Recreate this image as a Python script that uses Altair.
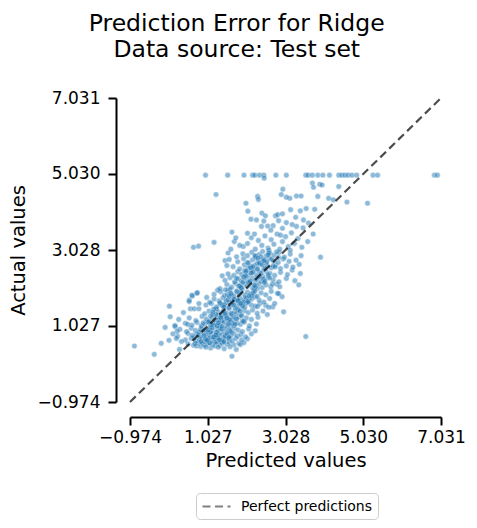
import altair as alt
import pandas as pd

LO = -0.9744
HI = 7.0310
tick_values = [-0.9744, 1.0270, 3.0283, 5.0297, 7.0310]
legend_label = "Perfect predictions"

# ---- predicted / actual values (grouped by actual-value band) ----
pred_a = [0.30,0.52,0.66,0.74,0.79,0.85,0.90,0.95,1.02,1.10,1.15,1.21,1.27,1.34,1.40,1.45,1.52,1.58,1.65,1.70,1.76,1.83,1.87,1.96,0.88,1.05,1.30,0.70,1.60,1.20,0.98,1.38]
act_a  = [0.41,0.56,0.52,0.50,0.58,0.49,0.55,0.52,0.57,0.45,0.54,0.50,0.58,0.52,0.57,0.43,0.55,0.59,0.23,0.53,0.41,0.57,0.54,0.59,0.60,0.59,0.47,0.56,0.48,0.60,0.47,0.60]

pred_b = [0.45,0.60,0.72,0.81,0.88,0.95,1.01,1.08,1.14,1.19,1.25,1.31,1.37,1.44,1.50,1.57,1.66,1.75,1.90,2.05,0.67,0.99,1.22,1.41,
          0.25,0.52,0.63,0.74,0.83,0.90,0.97,1.03,1.09,1.15,1.21,1.27,1.33,1.40,1.47,1.54,1.62,1.70,1.79,1.88,2.00,2.15,0.78,1.06,1.30,1.58,3.55,
          0.31,0.48,0.60,0.71,0.80,0.88,0.94,1.00,1.06,1.12,1.18,1.24,1.30,1.36,1.43,1.50,1.57,1.64,1.72,1.81,1.92,2.08,2.25,0.84,1.10,1.34,1.61,-0.07]
act_b  = [0.66,0.70,0.63,0.68,0.71,0.62,0.67,0.72,0.64,0.69,0.61,0.70,0.66,0.63,0.71,0.68,0.64,0.70,0.66,0.69,0.72,0.65,0.70,0.67,
          0.76,0.83,0.78,0.81,0.74,0.84,0.77,0.80,0.73,0.82,0.78,0.75,0.84,0.79,0.74,0.81,0.77,0.83,0.76,0.80,0.74,0.82,0.79,0.85,0.80,0.75,0.75,
          0.94,0.88,0.97,0.91,0.86,0.99,0.92,0.88,0.96,0.90,0.98,0.87,0.93,0.99,0.89,0.95,0.91,0.86,0.97,0.92,0.88,0.95,0.90,0.93,0.87,0.96,0.99,0.99]

pred_c = [0.19,0.45,0.62,0.75,0.86,0.95,1.02,1.09,1.16,1.22,1.28,1.35,1.41,1.48,1.55,1.62,1.70,1.78,1.87,1.97,2.10,2.28,0.91,1.19,1.45,1.66,
          0.06,0.28,0.55,0.72,0.88,0.99,1.07,1.14,1.21,1.27,1.33,1.40,1.46,1.53,1.60,1.67,1.75,1.83,1.92,2.02,2.15,2.32,1.10,1.37,1.57,
          0.40,0.58,0.68,0.80,0.95,1.06,1.15,1.23,1.30,1.37,1.44,1.51,1.58,1.65,1.72,1.80,1.88,1.97,2.07,2.18,2.30,2.45,2.98,1.26,1.49,1.76,2.56]
act_c  = [1.01,1.10,1.05,1.12,1.03,1.08,1.14,1.01,1.07,1.11,1.04,1.09,1.13,1.02,1.06,1.12,1.04,1.10,1.07,1.13,1.03,1.08,1.11,1.05,1.14,1.09,
          1.27,1.20,1.24,1.17,1.28,1.21,1.16,1.25,1.19,1.29,1.22,1.17,1.26,1.20,1.28,1.18,1.23,1.27,1.16,1.24,1.20,1.26,1.29,1.23,1.18,
          1.38,1.48,1.48,1.48,1.35,1.42,1.33,1.46,1.39,1.31,1.44,1.37,1.49,1.34,1.41,1.47,1.32,1.43,1.38,1.45,1.36,1.42,1.40,1.48,1.30,1.36,1.33]

pred_d = [0.04,0.55,0.98,1.12,1.25,1.35,1.43,1.50,1.57,1.63,1.70,1.77,1.84,1.91,1.98,2.06,2.15,2.25,2.37,2.52,2.70,1.46,1.73,2.01,
          0.62,1.08,1.19,1.32,1.42,1.50,1.58,1.65,1.72,1.79,1.86,1.93,2.00,2.08,2.16,2.25,2.35,2.47,2.62,2.94,1.55,1.82,2.12,
          0.76,1.00,1.19,1.36,1.46,1.55,1.63,1.70,1.77,1.84,1.91,1.98,2.05,2.13,2.21,2.30,2.40,2.52,2.66,2.82,1.60,1.88,2.17,1.28]
act_d  = [1.55,1.71,1.58,1.62,1.53,1.60,1.56,1.64,1.51,1.59,1.63,1.54,1.61,1.57,1.52,1.64,1.58,1.55,1.62,1.57,1.53,1.60,1.50,1.63,
          1.84,1.65,1.74,1.69,1.77,1.71,1.66,1.79,1.73,1.68,1.76,1.70,1.78,1.67,1.74,1.79,1.71,1.66,1.75,1.80,1.72,1.69,1.77,
          1.91,1.78,1.86,1.93,1.83,1.97,1.88,1.82,1.95,1.86,1.99,1.84,1.92,1.87,1.96,1.81,1.90,1.85,1.94,1.89,1.99,1.93,1.83,1.97]

pred_e = [1.34,1.52,1.64,1.74,1.82,1.90,1.97,2.04,2.11,2.18,2.26,2.34,2.43,2.53,2.65,2.80,2.88,3.37,1.86,2.22,
          1.47,1.60,1.72,1.81,1.89,1.96,2.03,2.10,2.17,2.24,2.32,2.40,2.49,2.59,2.71,2.86,3.05,3.27,1.93,2.28,
          1.55,1.70,1.80,1.90,1.98,2.06,2.13,2.20,2.28,2.36,2.44,2.53,2.63,2.75,2.90,3.08,3.20,3.41,2.00,2.40]
act_e  = [2.01,2.12,2.05,2.15,2.08,2.02,2.13,2.07,2.16,2.03,2.10,2.14,2.04,2.11,2.06,2.13,2.06,2.11,2.09,2.01,
          2.23,2.30,2.19,2.27,2.21,2.32,2.25,2.18,2.29,2.22,2.31,2.20,2.26,2.33,2.24,2.19,2.28,2.22,2.18,2.26,
          2.40,2.36,2.46,2.39,2.49,2.35,2.43,2.48,2.37,2.45,2.34,2.47,2.41,2.36,2.44,2.38,2.50,2.41,2.46,2.42]

pred_f = [1.68,1.85,1.97,2.07,2.15,2.23,2.31,2.39,2.47,2.56,2.66,2.77,2.90,3.05,3.22,3.38,2.12,2.50,
          1.47,1.80,1.95,2.08,2.18,2.27,2.35,2.44,2.53,2.62,2.72,2.84,2.97,3.12,3.30,3.93,2.30,2.67,
          1.77,1.93,2.05,2.16,2.26,2.35,2.44,2.53,2.63,2.74,2.86,3.00,3.15,3.43,2.40,2.80]
act_f  = [2.59,2.53,2.64,2.57,2.51,2.62,2.55,2.66,2.52,2.60,2.56,2.63,2.54,2.61,2.58,2.65,2.60,2.55,
          2.75,2.72,2.80,2.69,2.77,2.82,2.71,2.78,2.68,2.81,2.74,2.70,2.79,2.73,2.76,2.84,2.68,2.79,
          2.85,2.93,2.88,2.97,2.86,2.91,2.99,2.87,2.94,2.89,2.96,2.84,2.92,2.88,2.85,2.98]

pred_g = [0.66,0.79,1.19,1.71,1.94,2.05,2.15,2.25,2.33,2.42,2.50,2.58,2.66,2.73,2.81,2.88,2.95,3.03,3.10,3.18,3.26,3.35,3.45,3.60,3.74,1.65,2.05,2.23,2.60,2.90,3.15]
act_g  = [3.10,3.13,3.23,3.25,3.12,3.20,3.35,3.05,3.28,3.15,3.40,3.08,3.30,3.18,3.45,3.05,3.25,3.38,3.12,3.48,3.20,3.33,3.10,3.25,3.45,3.50,3.47,3.45,3.02,3.42,3.02]

pred_h = [2.41,2.57,2.71,3.31,3.48,3.62,2.14,2.28,2.47,3.29,3.49,2.42,2.51,2.77,2.83,2.95,2.06,3.16,3.56,3.41,3.78,2.01,2.31,2.33,2.92,3.14,3.05,3.31,3.43,3.86,4.14,4.26,4.61,5.14,1.24,2.96,4.40,3.72,3.75,3.91,3.97,2.65,2.95,3.05,2.85,3.20]
act_h  = [3.65,3.66,3.67,3.65,3.61,3.74,3.84,3.82,3.79,3.89,3.82,4.00,3.93,3.93,3.96,3.98,4.05,4.09,4.12,4.06,4.10,4.26,4.44,4.36,4.49,4.39,4.42,4.45,4.45,4.44,4.39,4.35,4.29,4.26,4.49,4.63,4.70,4.79,4.68,4.76,4.74,3.55,3.60,3.75,3.80,3.70]

pred_cap = [0.97,1.54,1.96,2.18,2.24,2.36,2.47,2.48,2.78,3.05,3.55,3.61,3.72,3.86,3.99,4.16,4.40,4.48,4.56,4.64,4.74,4.86,5.28,5.40,6.86,6.94]
act_cap  = [5.00,5.00,5.00,5.00,5.00,5.00,5.00,4.92,5.00,5.00,5.00,5.00,5.00,5.00,5.00,5.00,5.00,5.00,5.00,5.00,5.00,5.00,5.00,5.00,5.00,5.00]

pred_tail = [-0.86,-0.35,-0.17,0.03,0.18,0.24,0.51,0.55,0.63,0.75,0.80,0.13,0.22,0.35]
act_tail  = [0.50,0.28,0.57,0.65,1.04,0.89,1.07,1.67,1.82,1.89,1.62,0.82,0.70,0.62]

pred_core = [0.93,1.04,1.17,1.26,1.39,1.48,1.61,1.13,1.29,1.52,
             1.12,1.24,1.31,1.43,1.56,1.69,1.82,1.95,1.18,1.38,1.63,1.77,1.90,
             1.41,1.53,1.66,1.78,1.89,2.02,2.19,2.31,1.48,1.71,1.95,2.09,
             1.84,1.95,2.07,2.19,2.31,2.45,2.58,2.69,2.02,2.25,2.50,
             2.13,2.24,2.36,2.49,2.60,2.71,2.85,2.30,2.55]
act_core  = [0.78,0.92,0.73,0.86,0.95,0.77,0.89,0.98,0.71,0.83,
             1.06,1.33,1.18,1.41,1.09,1.27,1.45,1.15,1.47,1.02,1.36,1.21,1.30,
             1.57,1.85,1.68,1.93,1.61,1.76,1.89,1.54,1.98,1.73,1.66,1.82,
             2.08,2.31,2.17,2.44,2.02,2.26,2.38,2.13,2.47,2.05,2.21,
             2.56,2.88,2.68,2.77,2.95,2.61,2.83,2.52,2.72]

pred_core2 = [0.85,0.97,1.08,1.19,1.33,1.44,1.57,1.02,1.24,
              1.05,1.16,1.27,1.36,1.47,1.59,1.73,1.86,1.30,1.52,
              1.34,1.45,1.58,1.69,1.81,1.93,2.06,2.24,1.62,1.87,
              1.77,1.88,2.00,2.12,2.23,2.36,2.48,2.62,2.15,
              2.05,2.19,2.32,2.43,2.58,2.76,2.47]
act_core2  = [0.62,0.69,0.58,0.74,0.66,0.61,0.72,0.65,0.79,
              1.13,1.39,1.03,1.26,1.35,1.19,1.08,1.42,1.11,1.24,
              1.64,1.52,1.81,1.58,1.70,1.55,1.67,1.94,1.88,1.62,
              2.28,2.04,2.35,2.21,2.10,2.33,2.17,2.29,2.42,
              2.70,2.59,2.81,2.64,2.90,2.58,2.74]

pred_extra = [1.55,1.62,1.75,1.85,1.52,2.75,2.85,1.40,1.58,2.60]
act_extra  = [2.95,3.05,3.35,3.15,2.62,1.62,1.88,2.35,2.78,1.52]

pred_all = (pred_a + pred_b + pred_c + pred_d + pred_e + pred_f + pred_g + pred_h
            + pred_cap + pred_tail + pred_core + pred_core2 + pred_extra)
act_all = (act_a + act_b + act_c + act_d + act_e + act_f + act_g + act_h
           + act_cap + act_tail + act_core + act_core2 + act_extra)

points = pd.DataFrame({"predicted": pred_all, "actual": act_all})
diag = pd.DataFrame({"predicted": [LO, HI], "actual": [LO, HI], "label": [legend_label, legend_label]})

FONT = "DejaVu Sans"

xscale = alt.Scale(domain=[LO, HI], nice=False, zero=False)
yscale = alt.Scale(domain=[LO, HI], nice=False, zero=False)

axis_common = dict(
    values=tick_values, format=".3f", grid=False, tickSize=8, tickWidth=2,
    tickColor="black", domainColor="black", domainWidth=2,
    labelFontSize=17, labelFont=FONT, labelColor="black",
    titleFontSize=19.5, titleFont=FONT, titleColor="black", titleFontWeight="normal",
    labelFlush=False, labelOverlap=False,
)

xaxis = alt.Axis(title="Predicted values", offset=15, labelPadding=4, titlePadding=6, **axis_common)
yaxis = alt.Axis(title="Actual values", offset=14, labelPadding=8, titlePadding=9, **axis_common)

scatter = alt.Chart(points).mark_circle(
    size=32, color="#1f77b4", opacity=0.5, stroke="white", strokeWidth=0.5
).encode(
    x=alt.X("predicted:Q", scale=xscale, axis=xaxis),
    y=alt.Y("actual:Q", scale=yscale, axis=yaxis),
)

line = alt.Chart(diag).mark_line(color="black", opacity=0.7, strokeWidth=2.2).encode(
    x=alt.X("predicted:Q", scale=xscale, axis=xaxis),
    y=alt.Y("actual:Q", scale=yscale, axis=yaxis),
    strokeDash=alt.StrokeDash(
        "label:N",
        scale=alt.Scale(range=[[8, 4.5]]),
        legend=alt.Legend(
            title=None, orient="none", legendX=66, legendY=395,
            symbolType="M-1,0H3", symbolStrokeColor="#4d4d4d", symbolStrokeWidth=2.2,
            symbolSize=196, labelOffset=23, labelFontSize=14, labelFont=FONT, labelColor="black",
            strokeColor="#cccccc", cornerRadius=4, padding=5, fillColor="white",
        ),
    ),
)

chart = alt.layer(scatter, line).properties(
    width=311,
    height=304,
    autosize=alt.AutoSizeParams(type="none"),
    padding={"left": 122, "top": 90, "right": 26, "bottom": 118},
    title=alt.TitleParams(
        text=["Prediction Error for Ridge", "Data source: Test set"],
        fontSize=23.5, font=FONT, fontWeight="normal", color="black",
        anchor="middle", frame="bounds", lineHeight=26, offset=28,
    ),
).configure_view(stroke=None)

chart.save("out.html", embed_options={"renderer": "svg", "actions": False})
